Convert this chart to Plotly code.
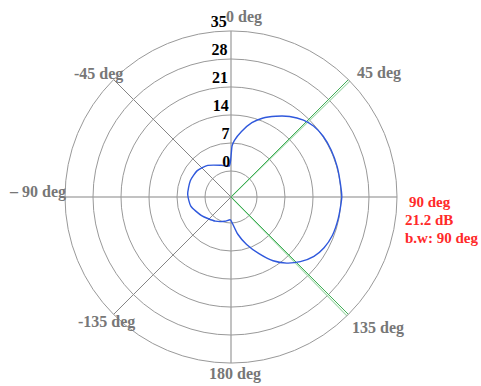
import plotly.graph_objects as go

# Antenna gain pattern (dB) versus azimuth (deg, clockwise from north)
azimuth = [0.3, 1.2, 3.5, 9.1, 15.7, 21.7, 29.1, 36.1, 43.3, 49.3, 56.6, 64.9, 74.2, 83.2, 90,
           101.3, 110.8, 118.6, 125.6, 133, 139.9, 146.6, 153.7, 161.8, 169.8, 176.6, 181.6,
           194.1, 213, 237.7, 257.3, 273.6, 291.8, 308, 323.7, 343, 357, 360.3]
gain_db = [4.3, 6.3, 7.7, 10.1, 12.8, 14.7, 16.6, 18.4, 19.9, 20.7, 21.1, 21.15, 21.1, 21.05, 21.2,
           20.85, 20.6, 20.0, 19.0, 17.2, 15.1, 12.6, 9.3, 6.0, 2.9, 0.2, -0.8,
           -0.25, 0.7, 2.2, 3.8, 4.35, 4.45, 4.2, 3.3, 1.8, 1.3, 4.3]

# Half-power beam edges and peak summary
beam_edges = [45, 135]
peak_dir = 90
peak_gain = 21.2
beamwidth = 90

ring_values = [0, 7, 14, 21, 28, 35]
r_min, r_max = -6.5, 35

angle_labels = ["0 deg", "45 deg", "– 90 deg", "-45 deg", "-135 deg", "135 deg", "180 deg"]

W, H = 481, 386
CX, CY, R = 231, 197, 166


def px(x):
    return x / W


def py(y):
    return 1 - y / H


fig = go.Figure()

# Beam-edge markers
for edge in beam_edges:
    fig.add_trace(go.Scatterpolar(theta=[edge + 0.7, edge + 0.7], r=[r_min, r_max], mode="lines",
                                  line=dict(color="#a9dcb2", width=1.2), hoverinfo="skip"))
    fig.add_trace(go.Scatterpolar(theta=[edge, edge], r=[r_min, r_max], mode="lines",
                                  line=dict(color="#3fae55", width=1), hoverinfo="skip"))

# Pattern curve
fig.add_trace(go.Scatterpolar(theta=azimuth, r=gain_db, mode="lines",
                              line=dict(color="#2f58dc", width=1.4, shape="spline", smoothing=0.6),
                              hoverinfo="skip"))

# Ring value labels along the 0 deg spoke
fig.add_trace(go.Scatterpolar(theta=[-1.5] * len(ring_values), r=ring_values, mode="text",
                              text=[f"<b>{v}</b>" for v in ring_values], textposition="top left",
                              textfont=dict(family="Liberation Serif", size=16, color="black"),
                              cliponaxis=False, hoverinfo="skip"))

fig.update_layout(
    width=W, height=H,
    margin=dict(l=0, r=0, t=0, b=0),
    paper_bgcolor="white",
    showlegend=False,
    polar=dict(
        domain=dict(x=[px(CX - R), px(CX + R)], y=[py(CY + R), py(CY - R)]),
        bgcolor="white",
        radialaxis=dict(range=[r_min, r_max], tickvals=ring_values, showticklabels=False,
                        ticks="", showline=False, gridcolor="#999999", gridwidth=1),
        angularaxis=dict(rotation=90, direction="clockwise", tickvals=[0, 45, 90, 135, 180, 225, 270, 315],
                         showticklabels=False, ticks="", showline=True, linecolor="#999999",
                         linewidth=1, gridcolor="#858585", gridwidth=1),
    ),
)

label_font = dict(family="Liberation Serif", size=16, color="#777777")
label_pos = [(224, 17, "left"), (355, 73, "left"), (68, 192, "right"), (125, 74, "right"),
             (137, 322, "right"), (350, 328, "left"), (235, 374, "center")]
for text, (x, y, anchor) in zip(angle_labels, label_pos):
    fig.add_annotation(x=px(x), y=py(y), xref="paper", yref="paper", text=f"<b>{text}</b>",
                       showarrow=False, xanchor=anchor, yanchor="middle", font=label_font)

red_font = dict(family="Liberation Serif", size=15, color="#ff2a2a")
summary = [f"{peak_dir} deg", f"{peak_gain} dB", f"b.w: {beamwidth} deg"]
for i, (text, x) in enumerate(zip(summary, [407, 403, 403])):
    fig.add_annotation(x=px(x), y=py(202 + 18 * i), xref="paper", yref="paper", text=f"<b>{text}</b>",
                       showarrow=False, xanchor="left", yanchor="middle", font=red_font)

fig.write_html("out.html")
